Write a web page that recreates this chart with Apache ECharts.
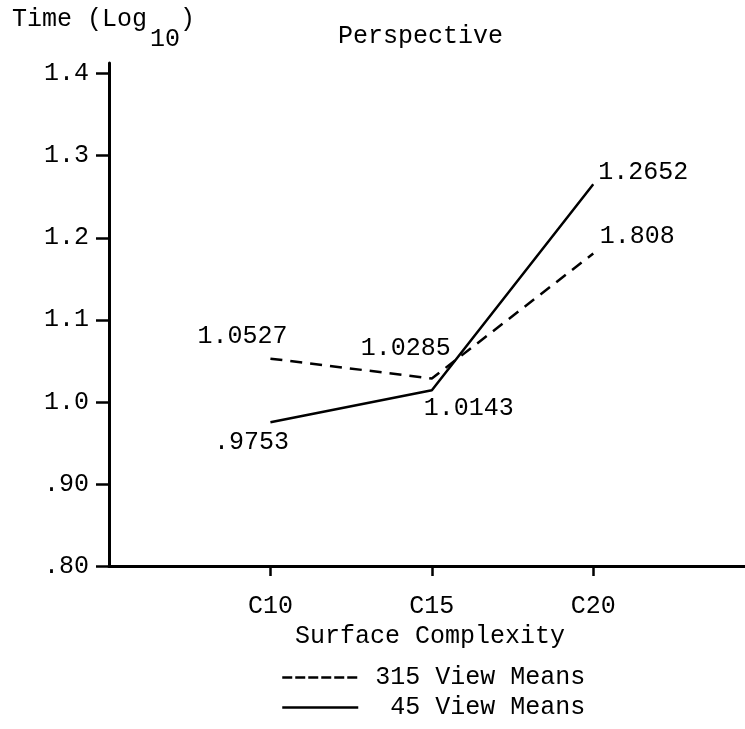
<!DOCTYPE html>
<html>
<head>
<meta charset="utf-8">
<script src="https://cdn.jsdelivr.net/npm/echarts@6/dist/echarts.min.js"></script>
<style>html,body{margin:0;padding:0;background:#fff;}#c{width:745px;height:729px;}</style>
</head>
<body>
<div id="c"></div>
<script>
// ---- data ----
const categories = ['C10', 'C15', 'C20'];
const categoryPos = [1, 2, 3];
const seriesNames = ['315 View Means', ' 45 View Means'];
const view315 = [1.0527, 1.0285, 1.1808];
const view45 = [0.9753, 1.0143, 1.2652];
const view315Labels = ['1.0527', '1.0285', '1.808'];
const view45Labels = ['.9753', '1.0143', '1.2652'];
const yTicks = [0.8, 0.9, 1.0, 1.1, 1.2, 1.3, 1.4];
const yTickLabels = ['.80', '.90', '1.0', '1.1', '1.2', '1.3', '1.4'];

// ---- styles / positions ----
const FONT = '"Liberation Mono", "DejaVu Sans Mono", monospace';
const FS = 25;
const off315 = [[-28, -22], [-26, -30], [44, -17]];
const off45 = [[-19, 20], [37, 18], [50, -12]];

function buildData(vals, labels, offs) {
  return vals.map((v, i) => ({
    value: [categoryPos[i], v],
    label: { formatter: labels[i], offset: offs[i] }
  }));
}

const chart = echarts.init(document.getElementById('c'), null, { renderer: 'canvas' });
const lbl = { show: true, position: 'inside', color: '#000', fontFamily: FONT, fontSize: FS };
const legendBase = {
  orient: 'vertical', left: 276, itemWidth: 76, itemHeight: 14, itemGap: 4,
  itemStyle: { opacity: 0 },
  textStyle: { fontFamily: FONT, fontSize: FS, color: '#000', padding: [0, 0, 0, 12] }
};
chart.setOption({
  animation: false,
  backgroundColor: '#fff',
  textStyle: { fontFamily: FONT, color: '#000' },
  grid: { left: 109, right: 0, top: 63, bottom: 163, containLabel: false },
  xAxis: {
    type: 'value', min: 0, max: 3.94, interval: 1,
    axisLine: { show: true, lineStyle: { color: '#000', width: 3 } },
    axisTick: { show: true, customValues: categoryPos, length: 10, inside: false, lineStyle: { color: '#000', width: 2.5 } },
    axisLabel: { customValues: categoryPos, formatter: v => categories[categoryPos.indexOf(v)] || '', color: '#000', fontFamily: FONT, fontSize: FS, margin: 28 },
    splitLine: { show: false }
  },
  yAxis: {
    type: 'value', min: 0.8, max: 1.413, interval: 0.1,
    axisLine: { show: true, lineStyle: { color: '#000', width: 3 } },
    axisTick: { show: true, customValues: yTicks, length: 13, lineStyle: { color: '#000', width: 2.5 } },
    axisLabel: { customValues: yTicks, formatter: v => { let i = yTicks.findIndex(t => Math.abs(t - v) < 1e-6); return i >= 0 ? yTickLabels[i] : ''; }, color: '#000', fontFamily: FONT, fontSize: FS, margin: 20 },
    splitLine: { show: false }
  },
  title: { text: 'Perspective', left: 338, top: 24, padding: 0, textStyle: { fontFamily: FONT, fontSize: FS, fontWeight: 'normal', color: '#000' } },
  graphic: [
    { type: 'text', left: 12, top: 7, style: { text: 'Time (Log', fontFamily: FONT, fontSize: FS, fill: '#000' } },
    { type: 'text', left: 150, top: 27, style: { text: '10', fontFamily: FONT, fontSize: FS, fill: '#000' } },
    { type: 'text', left: 180, top: 7, style: { text: ')', fontFamily: FONT, fontSize: FS, fill: '#000' } },
    { type: 'text', left: 295, top: 624, style: { text: 'Surface Complexity', fontFamily: FONT, fontSize: FS, fill: '#000' } }
  ],
  legend: [
    Object.assign({}, legendBase, { top: 660, data: [{ name: seriesNames[0], lineStyle: { type: [10, 3], width: 2.5 } }] }),
    Object.assign({}, legendBase, { top: 690, data: [{ name: seriesNames[1], lineStyle: { width: 2.5 } }] })
  ],
  series: [
    { name: seriesNames[0], type: 'line', symbol: 'circle', symbolSize: 0.1, color: '#000',
      lineStyle: { color: '#000', width: 2.5, type: [12, 8] }, itemStyle: { color: '#000' },
      label: lbl, data: buildData(view315, view315Labels, off315) },
    { name: seriesNames[1], type: 'line', symbol: 'circle', symbolSize: 0.1, color: '#000',
      lineStyle: { color: '#000', width: 2.5 }, itemStyle: { color: '#000' },
      label: lbl, data: buildData(view45, view45Labels, off45) }
  ]
});
</script>
</body>
</html>
